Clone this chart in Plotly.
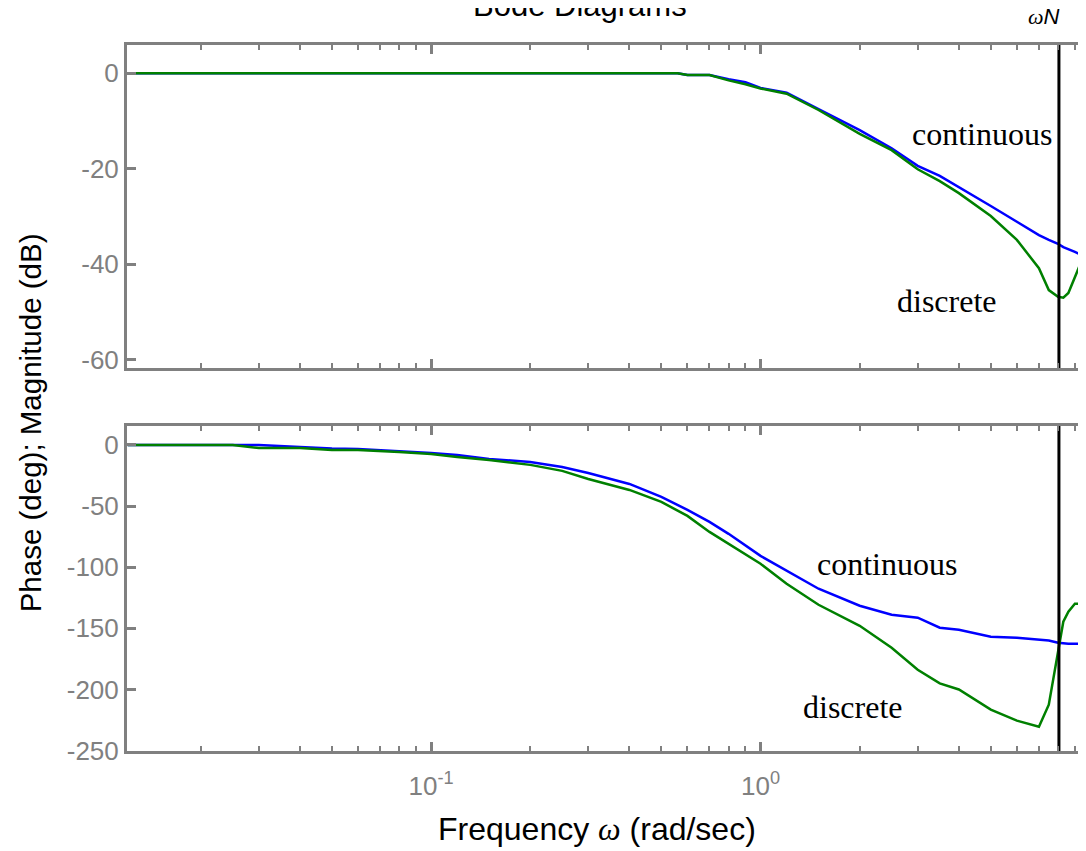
import plotly.graph_objects as go

# ---------------- data ----------------
mag_freq = [0.012, 0.1, 0.3, 0.56, 0.6, 0.7, 0.8, 0.9, 1.0, 1.2, 1.5, 2.0, 2.5,
            3.0, 3.5, 4.0, 5.0, 6.0, 7.0, 7.5, 8.0, 8.3, 8.6, 9.0, 9.5, 9.8]
mag_cont = [0, 0, 0, 0, -0.4, -0.4, -1.25, -1.9, -3.1, -4.1, -7.5, -11.9, -15.7,
            -19.4, -21.5, -23.8, -27.8, -31.1, -33.9, -34.9, -35.7, -36.4, -36.8, -37.4, -38.2, -38.6]
mag_disc = [0, 0, 0, 0, -0.4, -0.4, -1.5, -2.3, -3.2, -4.3, -7.7, -12.7, -16.1,
            -20.1, -22.6, -25.1, -29.9, -34.9, -40.8, -45.4, -46.8, -47.0, -46.0, -42.6, -38.7, -36.5]

ph_freq = [0.012, 0.025, 0.03, 0.04, 0.05, 0.06, 0.08, 0.1, 0.12, 0.15, 0.2, 0.25, 0.3,
           0.4, 0.5, 0.6, 0.7, 0.8, 1.0, 1.2, 1.5, 2.0, 2.5, 3.0, 3.5, 4.0, 5.0, 6.0,
           7.0, 7.5, 8.0, 8.3, 8.6, 9.0, 9.8]
ph_cont = [0, 0, 0, -1.6, -2.9, -3.3, -4.9, -6.5, -8.2, -11.4, -13.9, -18.0, -22.9,
           -31.9, -42.5, -53.1, -62.9, -72.7, -90.7, -102.9, -117.6, -131.5, -138.9, -141.3,
           -149.5, -151.1, -156.9, -157.7, -159.3, -160.0, -161.8, -162.3, -162.6, -162.6, -162.6]
ph_disc = [0, 0, -2.5, -2.5, -4.1, -4.1, -5.7, -7.4, -9.8, -12.3, -16.3, -21.2, -27.8,
           -36.8, -46.6, -58.0, -71.1, -80.9, -97.2, -113.6, -130.7, -147.9, -165.8, -183.8,
           -195.0, -200.0, -216.5, -225.5, -230.4, -212.4, -169.1, -144.6, -136.4, -129.9, -129.9]

omega_N = 8.05
mag_ticks = [0, -20, -40, -60]
ph_ticks = [0, -50, -100, -150, -200, -250]
x_major = [0.1, 1.0]
x_major_text = ["10<sup>-1</sup>", "10<sup>0</sup>"]
x_minor = [m * 10.0 ** e for e in (-2, -1, 0) for m in range(2, 10)]

mag_range = [-61.7, 5.9]
ph_range = [-250.3, 15.5]
x_range_log = [-1.923, 0.991]

# ---------------- layout helpers ----------------
# the page body adds an 8 px offset; targets below are screen pixels
OFF = 8
W, H = 1086, 851
ML, MR, MT, MB = 119, 4, 37, 108
PW, PH = W - ML - MR, H - MT - MB


def px(x):
    return (x - OFF - ML) / PW


def py(y):
    return (H - MB + OFF - y) / PH


GREY = "#808080"
BLUE = "#0000FF"
GREEN = "#008000"
SANS = "Liberation Sans, Arial, sans-serif"
SERIF = "Liberation Serif, Times New Roman, serif"

fig = go.Figure()

fig.add_trace(go.Scatter(x=mag_freq, y=mag_cont, mode="lines", line=dict(color=BLUE, width=2.5),
                         xaxis="x", yaxis="y", name="continuous"))
fig.add_trace(go.Scatter(x=mag_freq, y=mag_disc, mode="lines", line=dict(color=GREEN, width=2.5),
                         xaxis="x", yaxis="y", name="discrete"))
fig.add_trace(go.Scatter(x=[omega_N, omega_N], y=mag_range, mode="lines",
                         line=dict(color="black", width=3), xaxis="x", yaxis="y"))

fig.add_trace(go.Scatter(x=ph_freq, y=ph_cont, mode="lines", line=dict(color=BLUE, width=2.5),
                         xaxis="x2", yaxis="y2", name="continuous"))
fig.add_trace(go.Scatter(x=ph_freq, y=ph_disc, mode="lines", line=dict(color=GREEN, width=2.5),
                         xaxis="x2", yaxis="y2", name="discrete"))
fig.add_trace(go.Scatter(x=[omega_N, omega_N], y=ph_range, mode="lines",
                         line=dict(color="black", width=3), xaxis="x2", yaxis="y2"))

common_x = dict(type="log", range=x_range_log, showgrid=False, zeroline=False,
                showline=True, linecolor=GREY, linewidth=3, mirror="ticks",
                ticks="inside", ticklen=9, tickwidth=2.5, tickcolor=GREY,
                tickmode="array", tickvals=x_major, ticktext=x_major_text,
                minor=dict(tickmode="array", tickvals=x_minor, ticks="inside",
                           ticklen=5, tickwidth=2, tickcolor=GREY, showgrid=False),
                tickfont=dict(family=SANS, size=26, color=GREY))
common_y = dict(showgrid=False, zeroline=False, showline=True, linecolor=GREY, linewidth=3,
                mirror="ticks", ticks="inside", ticklen=9, tickwidth=2.5, tickcolor=GREY,
                tickmode="array", tickfont=dict(family=SANS, size=26, color=GREY))

top_dom = [py(368), 1.0]
bot_dom = [0.0, py(426)]

fig.update_layout(
    width=W, height=H, margin=dict(l=ML, r=MR, t=MT, b=MB),
    paper_bgcolor="white", plot_bgcolor="white", showlegend=False,
    xaxis=dict(common_x, anchor="y", showticklabels=False),
    yaxis=dict(common_y, domain=top_dom, range=mag_range, tickvals=mag_ticks,
               ticktext=[str(v) for v in mag_ticks], anchor="x"),
    xaxis2=dict(common_x, anchor="y2", ticklabelstandoff=10),
    yaxis2=dict(common_y, domain=bot_dom, range=ph_range, tickvals=ph_ticks,
                ticktext=[str(v) for v in ph_ticks], anchor="x2"),
)

ann = [
    dict(text="Bode Diagrams", x=px(581), y=py(6), font=dict(family=SANS, size=31, color="black")),
    dict(text="<i><span style=\"font-family:Liberation Serif\">ω</span>N</i>", x=px(1047), y=py(17),
         font=dict(family=SANS, size=22, color="black")),
    dict(text="continuous", x=px(985), y=py(134), font=dict(family=SERIF, size=32, color="black")),
    dict(text="discrete", x=px(950), y=py(301), font=dict(family=SERIF, size=32, color="black")),
    dict(text="continuous", x=px(889), y=py(564), font=dict(family=SERIF, size=32, color="black")),
    dict(text="discrete", x=px(855), y=py(707), font=dict(family=SERIF, size=32, color="black")),
    dict(text="Frequency <span style=\"font-family:Liberation Serif\"><i>ω</i></span> (rad/sec)",
         x=px(598), y=py(829), font=dict(family=SANS, size=32, color="black")),
    dict(text="Phase (deg); Magnitude (dB)", x=px(30), y=py(423), textangle=-90,
         font=dict(family=SANS, size=29.5, color="black")),
]
for a in ann:
    a.update(xref="paper", yref="paper", showarrow=False, xanchor="center", yanchor="middle")
fig.update_layout(annotations=ann)

fig.write_html("out.html")
